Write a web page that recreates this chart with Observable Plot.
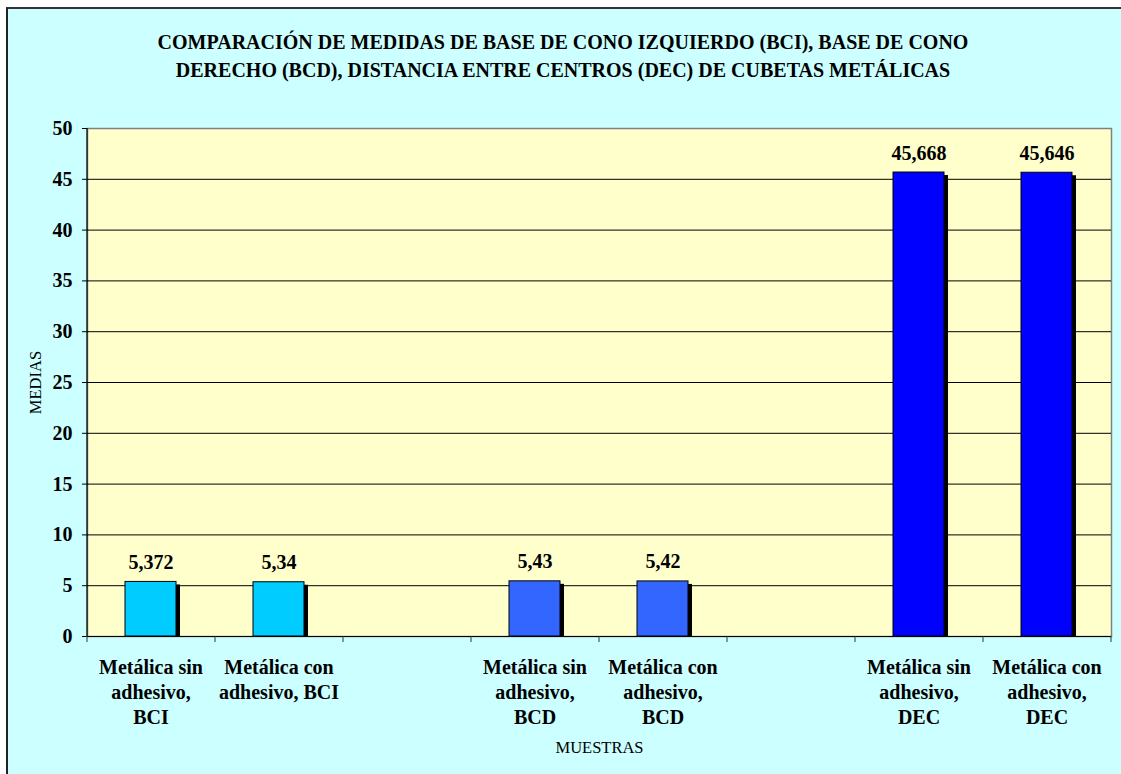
<!DOCTYPE html>
<html>
<head>
<meta charset="utf-8">
<script src="https://cdn.jsdelivr.net/npm/d3@7"></script>
<script src="https://cdn.jsdelivr.net/npm/@observablehq/plot@0.6"></script>
<style>
  html, body { margin: 0; padding: 0; background: #ffffff; }
  #chart { position: relative; width: 1121px; height: 774px; overflow: hidden; }
  #panel {
    position: absolute; left: 6px; top: 7px; right: -4px; bottom: -4px;
    background: #CCFFFF; border-left: 2px solid #222; border-top: 2px solid #333;
  }
  #plot { position: absolute; left: 0; top: 0; }
  #title {
    position: absolute; left: 0; width: 1126px; top: 28px;
    text-align: center; font-family: "Liberation Serif", "Times New Roman", serif;
    font-weight: bold; font-size: 20px; line-height: 28px; color: #000;
  }
</style>
</head>
<body>
<div id="chart">
  <div id="panel"></div>
  <div id="plot"></div>
  <div id="title"></div>
</div>
<script>
// Chart text
const titleLines = [
  "COMPARACIÓN DE MEDIDAS DE BASE DE CONO IZQUIERDO (BCI), BASE DE CONO",
  "DERECHO (BCD), DISTANCIA ENTRE CENTROS (DEC) DE CUBETAS METÁLICAS"
];
const yTitle = "MEDIAS";
const xTitle = "MUESTRAS";

// Category slots along x (two empty slots separate the groups)
const slots = ["sinBCI", "conBCI", "gap1", "sinBCD", "conBCD", "gap2", "sinDEC", "conDEC"];
const tickLabels = [
  "Metálica sin\nadhesivo,\nBCI",
  "Metálica con\nadhesivo, BCI",
  "",
  "Metálica sin\nadhesivo,\nBCD",
  "Metálica con\nadhesivo,\nBCD",
  "",
  "Metálica sin\nadhesivo,\nDEC",
  "Metálica con\nadhesivo,\nDEC"
];
// Mean values per slot
const values = [5.372, 5.34, null, 5.43, 5.42, null, 45.668, 45.646];
// Group of each slot (BCI, BCD, DEC)
const groups = ["BCI", "BCI", null, "BCD", "BCD", null, "DEC", "DEC"];
const groupNames = ["BCI", "BCD", "DEC"];
const groupColors = ["#00CCFF", "#3366FF", "#0000FF"];
const yTicks = [0, 5, 10, 15, 20, 25, 30, 35, 40, 45, 50];
const gridValues = [5, 10, 15, 20, 25, 30, 35, 40, 45];

const data = slots
  .map((slot, i) => ({slot, value: values[i], group: groups[i]}))
  .filter(d => d.value != null);

const W = 1121, H = 774;
const mLeft = 87, mRight = 10, mTop = 128, mBottom = 138;
const step = (W - mLeft - mRight) / slots.length;
const serif = "'Liberation Serif', 'Times New Roman', serif";
const fmt = v => String(v).replace(".", ",");

document.getElementById("title").innerHTML = titleLines.join("<br>");

const chart = Plot.plot({
  width: W,
  height: H,
  marginLeft: mLeft,
  marginRight: mRight,
  marginTop: mTop,
  marginBottom: mBottom,
  style: {background: "transparent", fontFamily: serif, color: "#000", overflow: "visible"},
  x: {domain: slots, paddingInner: 0.6, paddingOuter: 0.3, axis: null},
  y: {domain: [0, 50], axis: null},
  color: {domain: groupNames, range: groupColors},
  marks: [
    // plot area
    Plot.frame({fill: "#FFFFCC", stroke: "#808080", strokeWidth: 1.5}),
    // gridlines
    Plot.ruleY(gridValues, {stroke: "#000", strokeWidth: 1}),
    // bar shadows
    Plot.barY(data, {x: "slot", y: "value", fill: "#000", dx: 4, dy: 3, insetBottom: 3}),
    // bars
    Plot.barY(data, {x: "slot", y: "value", fill: "group", stroke: "#000", strokeWidth: 1}),
    // value labels
    Plot.text(data, {
      x: "slot", y: "value", text: d => fmt(d.value),
      dy: -13, lineAnchor: "bottom", fontSize: 20, fontWeight: "bold"
    }),
    // axis lines
    Plot.ruleY([0], {stroke: "#000", strokeWidth: 1.2}),
    Plot.ruleX([slots[0]], {dx: -step / 2, stroke: "#000", strokeWidth: 1.2}),
    // y axis
    Plot.axisY({
      ticks: yTicks, tickSize: 5, tickPadding: 10, label: null,
      fontSize: 20, fontWeight: "bold", stroke: "#000"
    }),
    // x tick marks on category boundaries
    Plot.axisX({tickSize: 6, tickFormat: () => "", label: null, dx: -step / 2, stroke: "#333"}),
    Plot.axisX({ticks: [slots[slots.length - 1]], tickSize: 6, tickFormat: () => "", label: null, dx: step / 2, stroke: "#333"}),
    // x tick labels
    Plot.axisX({
      tickSize: 0, tickPadding: 19, label: null,
      tickFormat: d => tickLabels[slots.indexOf(d)],
      lineAnchor: "top", lineHeight: 1.27, fontSize: 20, fontWeight: "bold"
    }),
    // axis titles
    Plot.text([yTitle], {frameAnchor: "left", textAnchor: "middle", rotate: -90, dx: -52, fontSize: 16.5}),
    Plot.text([xTitle], {frameAnchor: "bottom", lineAnchor: "middle", dy: 111, fontSize: 16.5})
  ]
});

document.getElementById("plot").appendChild(chart);
</script>
</body>
</html>
